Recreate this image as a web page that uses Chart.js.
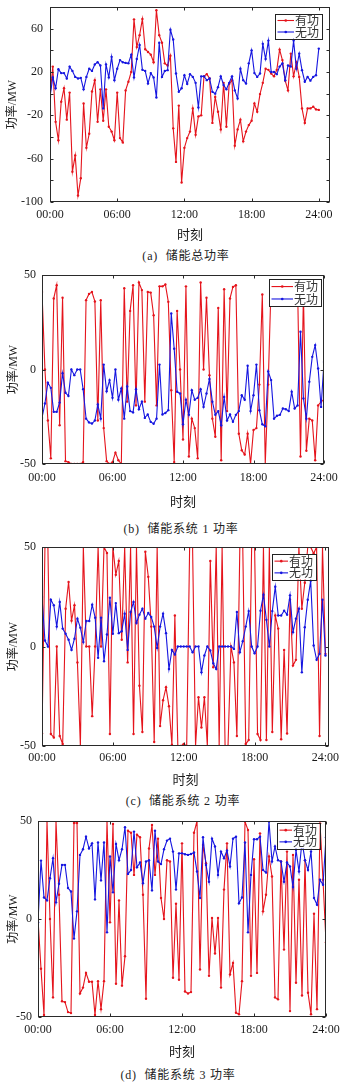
<!DOCTYPE html>
<html>
<head>
<meta charset="utf-8">
<script src="https://cdn.jsdelivr.net/npm/chart.js@4"></script>
<style>
  html, body { margin: 0; padding: 0; background: #fff; }
  body { width: 352px; height: 1087px; position: relative; overflow: hidden; }
  canvas { position: absolute; left: 0; }
  .cap {
    position: absolute;
    font: 12px "Liberation Serif", "Noto Sans CJK SC", serif;
    color: #222;
    white-space: nowrap;
    letter-spacing: 0.8px;
    transform: translate(-50%, -50%);
  }
</style>
</head>
<body>
<canvas id="c1"></canvas>
<canvas id="c2"></canvas>
<canvas id="c3"></canvas>
<canvas id="c4"></canvas>
<div class="cap" style="left:186px;top:255px">(a)&nbsp; 储能总功率</div>
<div class="cap" style="left:181px;top:528px">(b)&nbsp; 储能系统 1 功率</div>
<div class="cap" style="left:183px;top:800px">(c)&nbsp; 储能系统 2 功率</div>
<div class="cap" style="left:178px;top:1074px">(d)&nbsp; 储能系统 3 功率</div>
<script>
// 15 分钟一个点，00:00 ~ 24:00 共 97 点
const timeTicks = [0, 6, 12, 18, 24];
const timeLabels = ['00:00', '06:00', '12:00', '18:00', '24:00'];
const seriesNames = ['有功', '无功'];

const yTicksTotal = [-100, -80, -60, -40, -20, 0, 20, 40, 60, 80];
const yLabelsTotal = [-100, -60, -20, 20, 60];
const yTicksUnit = [-50, 0, 50];

// (a) 储能总功率
const activeTotal = [
  -2, 25, -26, -43, -7.5, 5, -24, 1, -72, -57,
  -94, -78, -9, -50, -37, 2, 12.5, -26, 4, -25,
  4, -30.5, -35, -43, 1, -41, -45, 3, 11, 20,
  68.6, 43, 54, 69, 41, 38.5, 36, 29, 77, 54,
  47, 28, 26, 35, -32, -63, -11, -82, -50, -41,
  -35, -13.6, -38, -21, -20, 16, 18, 14, -27, -3,
  -16.7, -33, 10, -30.5, 9, 12.5, -48, -33, -24, -44,
  -35, -29, -25, -9, -16.7, -0.4, 10, 23, 22, 18.6,
  16, 22, 40.7, 31, 12, 3, 37, 16, 29, 15.5,
  -13.6, -27, -13.6, -13.6, -12, -14.5, -15
];
const reactiveTotal = [
  -3, 15, 5, 22.6, 19, 19, 14, 25, 21, 15.5,
  14, 14.6, 4, 15.5, 23, 21, 27, 29, 26, -13.6,
  27, 15, 34, 12.5, 23, 31, 29, 28.4, 28, 36,
  15, 32, 45, 22, 21, 9.4, 19, 15, -3.5, 47,
  15.5, 21, 21.7, 59, 50, 18.6, 1.7, 5, 17, 9,
  18, 15.5, 10, -12.7, 16, 16, 12.5, 14, 1.7, 0,
  6, 16, 8, 4, 10, 16, 3, -4.4, 23, 12.5,
  9.4, 28, 40, 19, 15.5, 18.6, 46, 32, 49, 20,
  20, 18, 25, 28, 12.5, 26, 25, 49, 23, 37,
  21.7, 11, 15.5, 12, 15.5, 17, 41.6
];

// (b) 储能系统 1
const active1 = [
  41, 0, -27, -47, 37.6, 44.6, -29.5, 38, -48.5, -49,
  -50, -50, -50, -50, -49, 36.7, 40, 41, 36, -27,
  36.7, -31, -48.5, -50, -49, -44, -48, -50, 43, -17,
  31, 44.6, -19, 46, 42, -17, 41, 40.7, 28.7, -19,
  44, 44, 45, 35.8, -11, -49, 31, 0, -37, 44,
  -46, -26, -31, -47, 46, 0, 38, -3, -26, -35.6,
  32.6, -48, 42.5, -22, 37.6, 43.7, 44.6, -34, -42.7, -45,
  -34, -50, -32, -31, -8, 39.7, -50, -8, 46, 46,
  45, 43, 46, 44, 47, 42, 44, 45, -46, 40,
  -43, -26, -27, -48, -19, -17, -16
];
const reactive1 = [
  -25.6, -18, -7, -9.7, -22.4, -22.4, -17.5, -2, -12.3, -14,
  0, -3, 0, 0, -10.4, -26, -28, -28.6, -27, -18.5,
  -26, 2.6, -11.5, -5.6, -15, 0, -16, -10, -26, -9,
  -22, -22.7, -10.4, -21, -17, -25.6, -23.8, -27.7, -28.7, -26,
  2.6, -23.8, -23, -21.5, 29.6, 11, -11.8, -12.7, -29, -16,
  -24, -11, -16, -15, -10.4, -19.8, -12.7, -5, -17, -24,
  -22, -29.5, -14.5, -27, -23.8, -27.7, -24, -22, -13.6, -16,
  2, -22, -13.6, 2.6, -21.5, -29, -30, -1, -5.6, -26,
  -24.5, -24, -20.6, -21, -22, -11.8, -20.6, -19, 20, -15.3,
  -26, -6.5, 6.7, 12.9, 0.5, -19.8, 4
];

// (c) 储能系统 2
const active2 = [
  -43.7, 50, 50, -44, -45.7, 0, -45, -49, 19, 32.4,
  13, 20.7, -8, -50, 50, 0, 0, -35, 0, 50,
  0, 50, 47, -44, 50, 36, 43, 3.4, 50, -8,
  50, -44, 50, -19.7, -43, 47.6, 35, 10, -48, 50,
  -40, -27, -20.5, -30, -49.4, 15.6, -50, -50, -49, -50,
  50, 50, -50, -25.5, -40.7, -25.5, -50, 43, -10.4, 50,
  -50, 50, -50, -50, 0, -8, -45, 50, 50, -49,
  -47, 50, 50, -44, -47, 50, -47, 50, -43, 15.6,
  9, -46.6, -1.7, -43.7, 23.5, -9.6, -6.7, 50, 19, 32,
  50, 50, 46.7, 50, -45, 50, -3.7
];
const reactive2 = [
  24.9, 3, 0, 23.5, 20.7, 10, 22.4, 9, 6.4, 3.4,
  -1.7, 3.9, 14, 9.4, 2.2, 12.8, 12.8, 21, 14.5, -5.7,
  14.5, -7.4, 6, 24.5, 6.4, 21.8, 6.7, 7.7, 16.5, -1.7,
  17.3, 22.4, 11.8, 16, 19, 14, 16.8, 14.8, 10, -0.7,
  10, 16.5, 6.7, -11.3, -1.7, -4, 0, 0, 0, 0,
  0, -2.9, 0, 0, -13, -4.5, 0, -2, -8.4, -11.3,
  0, 0, 0, 0, 0, -1.2, 17.3, -2.9, 2.7, 10,
  17.8, 0, -3.4, 0, 18, 26, 13.4, 0, 17.8, 30,
  15.6, 15.6, 18, 16, 25.7, 7.2, 14, 19, -13, 9.7,
  23.5, 33, 0.5, -6.7, -3.7, 23.5, -4.5
];

// (d) 储能系统 3
const active3 = [
  0, -25.4, -49, 50, 0, -40, 50, 12.4, -42, -42.4,
  -47.5, -48, 49, 49, -38, -35, -27.5, -32, -32, -49,
  -31.7, -46, -31.7, 50, -1.7, 48.5, -33, 9.5, -34, -19,
  45, 44, 22.5, 43, 41.7, 12.4, -40.7, 36, 48, 22.5,
  41, 10.7, 0, 30, 29.3, -30, 7.8, -31, 38.6, -37,
  -38, -37.3, 44, 50, -25.8, 37.8, 28.5, -29, 0.5, -17.6,
  0.5, -35, 15, 38.6, -28.3, -22.4, -47.8, -48.6, -31.7, 49.7,
  45.4, -29, 30.5, -27.5, 43.7, 3.9, 12.4, 31.9, 21.7, -40,
  -41, 29.3, -15.6, 34.4, -47, 32.7, -32.5, 20, -39, 30,
  -37.6, -48.6, 2.7, -46, 48.8, 20, -11.9
];
const reactive3 = [
  -1.7, 29.8, 11, 9.5, 20.8, 31, 8.5, 18, 27.6, 27.6,
  15.8, 14, -10, 3.9, 32.7, 35.6, 42, 36, 38.6, 10,
  39, 19.7, 39, -6.8, 31.9, 13.6, 38.3, 30, 35.6, 46.8,
  23, 25, 44.6, 26.4, 28.8, 18.3, 29.3, 30, 14.6, 45,
  29.3, 28, 35.6, 40, 41, 34.4, 15, 33.5, 33.5, 33,
  32.7, 33.2, 33.9, 24.2, 10.7, 41.7, 27.6, 19, 41, 37,
  22.5, 34.4, 31, 34.9, 26.8, 41, 42, 8, 11, 39,
  -6.8, 22.5, 40.7, 40.7, 42, 25, 23.7, 49.7, 29.3, 37,
  30, 29.3, 19, 28.8, 26.8, 16.3, 35.3, 24.2, 39.5, 30,
  25, 34.4, 10.7, 7.3, 20, 17.5, 41.7
];

const RED = '#e5141c';
const BLUE = '#1616e0';
const FONT = '"Liberation Serif", "Noto Sans CJK SC", serif';

// 各子图的绘图区位置（页面坐标）
const panels = [
  { id: 'c1', active: activeTotal, reactive: reactiveTotal, yMin: -100, yMax: 80,
    yTicks: yTicksTotal, yLabels: yLabelsTotal, xMax: 25,
    box: { top: 7, bottom: 202, left: 50, right: 330 }, tickGap: 6, yTickGap: 7,
    xTitleY: 235.5, yTitleX: 13, legend: { x: 274.5, y: 13.5, w: 47, h: 25 } },
  { id: 'c2', active: active1, reactive: reactive1, yMin: -50, yMax: 50,
    yTicks: yTicksUnit, yLabels: yTicksUnit, xMax: 24,
    box: { top: 275, bottom: 464, left: 42, right: 324 }, tickGap: 6.5, yTickGap: 6,
    xTitleY: 502, yTitleX: 13.5, legend: { x: 268.5, y: 279, w: 52, h: 27 } },
  { id: 'c3', active: active2, reactive: reactive2, yMin: -50, yMax: 50,
    yTicks: yTicksUnit, yLabels: yTicksUnit, xMax: 24.3,
    box: { top: 547, bottom: 746, left: 42, right: 329 }, tickGap: 5, yTickGap: 6,
    xTitleY: 780, yTitleX: 14, legend: { x: 271.5, y: 554, w: 44, h: 25.5 } },
  { id: 'c4', active: active3, reactive: reactive3, yMin: -50, yMax: 50,
    yTicks: yTicksUnit, yLabels: yTicksUnit, xMax: 24,
    box: { top: 821, bottom: 1017, left: 38, right: 326 }, tickGap: 6, yTickGap: 6,
    xTitleY: 1052, yTitleX: 13.5, legend: { x: 276.5, y: 823, w: 43, h: 25.5 } },
];

// 边框 + 向内刻度 + 图例（MATLAB 风格）
const frameLegend = {
  id: 'frameLegend',
  afterDatasetsDraw(chart, args, opts) {
    const { ctx, chartArea: a, scales: { x, y } } = chart;
    ctx.save();
    ctx.strokeStyle = '#2a2a2a';
    ctx.lineWidth = 1;
    const L = Math.round(a.left) + 0.5, R = Math.round(a.right) - 0.5;
    const T = Math.round(a.top) + 0.5, B = Math.round(a.bottom) - 0.5;
    ctx.strokeRect(L, T, R - L, B - T);
    ctx.beginPath();
    opts.xTicks.forEach(v => {
      const px = Math.round(x.getPixelForValue(v)) + 0.5;
      ctx.moveTo(px, B); ctx.lineTo(px, B - 3);
      ctx.moveTo(px, T); ctx.lineTo(px, T + 3);
    });
    opts.yTicks.forEach(v => {
      const py = Math.round(y.getPixelForValue(v)) + 0.5;
      ctx.moveTo(L, py); ctx.lineTo(L + 3, py);
      ctx.moveTo(R, py); ctx.lineTo(R - 3, py);
    });
    ctx.stroke();

    // 图例
    const g = opts.legend;
    ctx.fillStyle = '#fff';
    ctx.fillRect(g.x, g.y, g.w, g.h);
    ctx.strokeStyle = '#222';
    ctx.strokeRect(Math.round(g.x) + 0.5, Math.round(g.y) + 0.5, Math.round(g.w), Math.round(g.h));
    ctx.font = '12px "Noto Sans CJK SC", sans-serif';
    ctx.textBaseline = 'middle';
    ctx.textAlign = 'right';
    const colors = [RED, BLUE];
    seriesNames.forEach((name, i) => {
      const cy = g.y + g.h * (i === 0 ? 0.28 : 0.74);
      const tx = g.x + g.w - 2.5;
      const tw = ctx.measureText(name).width;
      const x0 = g.x + 3, x1 = tx - tw - 1;
      ctx.strokeStyle = colors[i];
      ctx.lineWidth = 1.1;
      ctx.beginPath();
      ctx.moveTo(x0, cy); ctx.lineTo(x1, cy);
      ctx.stroke();
      ctx.fillStyle = colors[i];
      ctx.beginPath();
      ctx.arc((x0 + x1) / 2, cy, 1.3, 0, Math.PI * 2);
      ctx.fill();
      ctx.fillStyle = '#333';
      ctx.fillText(name, tx, cy);
    });
    ctx.restore();
  }
};

function toPoints(vals) {
  return vals.map((v, i) => ({ x: i * 0.25, y: v }));
}

panels.forEach(p => {
  const canvas = document.getElementById(p.id);
  const canvasTop = Math.max(0, p.box.top - 7);
  const canvasBottom = p.xTitleY + 7.8;
  const height = Math.round(canvasBottom - canvasTop);
  canvas.width = 352;
  canvas.height = height;
  canvas.style.top = canvasTop + 'px';
  canvas.style.width = '352px';
  canvas.style.height = height + 'px';

  const plotBottom = p.box.bottom - canvasTop;

  new Chart(canvas, {
    type: 'line',
    data: {
      datasets: [
        {
          label: seriesNames[0],
          data: toPoints(p.active),
          borderColor: RED,
          backgroundColor: RED,
          borderWidth: 1.1,
          pointRadius: 1.2,
          pointBorderWidth: 0,
          pointBackgroundColor: RED,
          tension: 0,
          order: 2,
        },
        {
          label: seriesNames[1],
          data: toPoints(p.reactive),
          borderColor: BLUE,
          backgroundColor: BLUE,
          borderWidth: 1.1,
          pointRadius: 1.2,
          pointBorderWidth: 0,
          pointBackgroundColor: BLUE,
          tension: 0,
          order: 1,
        },
      ],
    },
    plugins: [frameLegend],
    options: {
      responsive: false,
      animation: false,
      devicePixelRatio: 1,
      layout: {
        padding: { left: 0, top: p.box.top - canvasTop, right: 352 - p.box.right, bottom: 0 },
      },
      plugins: {
        legend: { display: false },
        tooltip: { enabled: false },
        frameLegend: {
          xTicks: timeTicks,
          yTicks: p.yTicks,
          legend: { x: p.legend.x, y: p.legend.y - canvasTop, w: p.legend.w, h: p.legend.h },
        },
      },
      scales: {
        x: {
          type: 'linear',
          min: 0,
          max: p.xMax,
          grid: { display: false, drawTicks: false },
          border: { display: false },
          afterBuildTicks: s => { s.ticks = timeTicks.map(v => ({ value: v })); },
          afterFit: s => {
            s.height = height - plotBottom;
            s.paddingLeft = 0;
            s.paddingRight = 0;
          },
          ticks: {
            autoSkip: false,
            maxRotation: 0,
            padding: p.tickGap,
            color: '#1a1a1a',
            font: { family: FONT, size: 12 },
            callback: v => timeLabels[timeTicks.indexOf(v)] ?? '',
          },
          title: {
            display: true,
            text: '时刻',
            color: '#1a1a1a',
            padding: 0,
            font: { family: FONT, size: 13 },
          },
        },
        y: {
          type: 'linear',
          min: p.yMin,
          max: p.yMax,
          grid: { display: false, drawTicks: false },
          border: { display: false },
          afterBuildTicks: s => { s.ticks = p.yTicks.map(v => ({ value: v })); },
          afterFit: s => {
            s.width = p.box.left;
            s.paddingTop = 0;
            s.paddingBottom = 0;
          },
          ticks: {
            autoSkip: false,
            padding: p.yTickGap,
            color: '#1a1a1a',
            font: { family: FONT, size: 12 },
            callback: v => (p.yLabels.includes(v) ? String(v) : ''),
          },
          title: {
            display: true,
            text: '功率/MW',
            color: '#1a1a1a',
            padding: { top: p.yTitleX - 7.2, bottom: 0 },
            font: { family: FONT, size: 12 },
          },
        },
      },
    },
  });
});
</script>
</body>
</html>
